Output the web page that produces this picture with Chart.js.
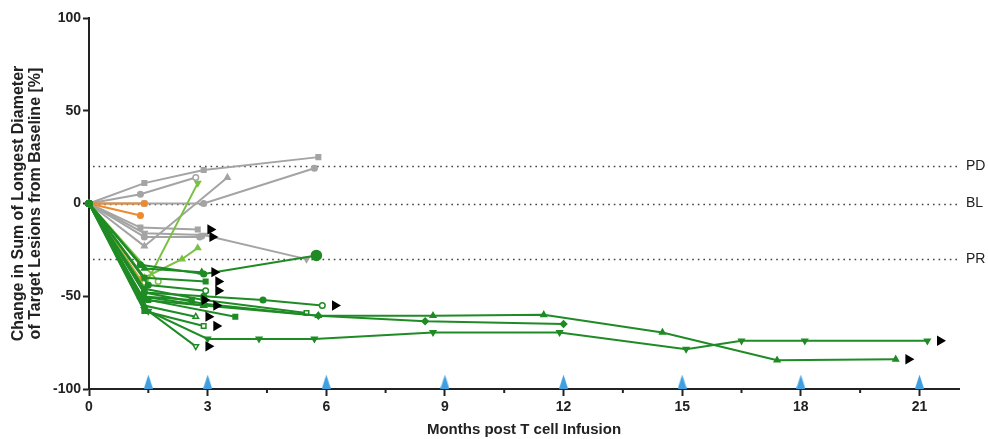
<!DOCTYPE html>
<html>
<head>
<meta charset="utf-8">
<script src="https://cdn.jsdelivr.net/npm/chart.js@4.4.1/dist/chart.umd.min.js"></script>
<style>
  body { margin: 0; background: #fff; }
  #wrap { width: 988px; height: 439px; position: relative; }
</style>
</head>
<body>
<div id="wrap"><canvas id="chart"></canvas></div>
<script>
// ---- data (months, % change) ----
const greyMonths = [[0, 1.4, 2.9, 5.8], [0, 1.3, 2.7], [0, 1.4, 3.5], [0, 1.4, 2.9, 5.7], [0, 1.3, 2.75], [0, 1.4, 2.8], [0, 1.4, 2.9, 5.5]];
const greyValues = [[0, 11, 18, 25], [0, 5, 14], [0, -23, 14], [0, 0, 0, 19], [0, -13, -14], [0, -18, -18], [0, -16, -17, -30]];
const greyShapes = ["rect", "circle", "triangle", "circle", "rect", "circle", "triangleDown"];
const greyOpenEnd = [false, true, false, false, false, false, false];
const greyOngoing = [false, false, false, false, true, true, false];

const orangeMonths = [[0, 1.3], [0, 1.4], [0, 1.3]];
const orangeValues = [[0, -6.5], [0, 0], [0, -41]];
const orangeShapes = ["circle", "rect", "circle"];

const lightMonths = [[0, 1.4, 2.75], [0, 1.4, 2.35, 2.75], [0, 1.75]];
const lightValues = [[0, -45, 11], [0, -40, -30, -24], [0, -42]];
const lightShapes = ["triangleDown", "triangle", "circle"];
const lightOpenEnd = [false, false, true];

const greenMonths = [
  [0, 1.3, 2.9, 5.75],
  [0, 1.4, 2.85],
  [0, 1.4, 2.95],
  [0, 1.5, 2.95],
  [0, 1.4, 2.9, 4.4, 5.9],
  [0, 1.3, 2.6],
  [0, 1.4, 2.9],
  [0, 1.5, 3.7],
  [0, 1.4, 2.7],
  [0, 1.4, 2.9],
  [0, 1.5, 2.7],
  [0, 1.4, 3.0, 4.3, 5.7, 8.7, 11.9, 15.1, 16.5, 18.1, 21.2],
  [0, 1.3, 2.9, 5.8, 8.7, 11.5, 14.5, 17.4, 20.4],
  [0, 1.4, 2.9, 5.8, 8.5, 12.0],
  [0, 1.4, 2.9, 5.5],
];
const greenValues = [
  [0, -33, -38, -28],
  [0, -35, -37],
  [0, -40, -42],
  [0, -44, -47],
  [0, -48, -50, -52, -55],
  [0, -50, -52],
  [0, -52, -55],
  [0, -52, -61],
  [0, -55, -61],
  [0, -58, -66],
  [0, -58, -77],
  [0, -57, -73, -73, -73, -69.5, -69.5, -78.5, -74, -74, -74],
  [0, -50, -55, -60.5, -60.5, -60, -69.5, -84.5, -84],
  [0, -48, -54, -60.5, -63.5, -65],
  [0, -46, -52, -59],
];
const greenShapes = ["circle", "triangle", "rect", "circle", "circle", "rect", "triangle", "rect", "triangle", "rect", "triangleDown", "triangleDown", "triangle", "rectRot", "rect"];
const greenOpenEnd = [false, false, false, true, true, false, false, false, true, true, true, false, false, false, true];
const greenOngoing = [false, true, true, true, true, true, true, false, true, true, true, true, true, false, false];
const greenBigEnd = [true, false, false, false, false, false, false, false, false, false, false, false, false, false, false];

const infusionMonths = [1.5, 3, 6, 9, 12, 15, 18, 21];
const infusionLevel = -96;

const refValues = [20, 0, -30];
const refLabels = ["PD", "BL", "PR"];
const minorTicks = [1.5, 4.5, 7.5, 10.5, 13.5, 16.5, 19.5];

const COLORS = {
  grey: "#a4a4a4",
  orange: "#ee8a2c",
  light: "#7ac143",
  green: "#1f8b24",
  blue: "#3f9fe0",
};

// arrow offset after last point (months)
const ARROW_GAP = 0.32;

function makeSeries(months, values, shapes, openEnd, color, order, bigEnd) {
  return months.map((xs, i) => {
    const down = shapes[i] === "triangleDown";
    const n = xs.length;
    const last = (j) => j === n - 1;
    const bg = xs.map((_, j) => (openEnd && openEnd[i] && last(j) ? "#fff" : color));
    const radius = xs.map((_, j) => {
      if (bigEnd && bigEnd[i] && last(j)) return 5;
      return shapes[i] === "circle" ? 2.8 : 3.2;
    });
    return {
      data: xs.map((x, j) => ({ x, y: values[i][j] })),
      borderColor: color,
      borderWidth: 2,
      pointStyle: down ? "triangle" : shapes[i],
      rotation: down ? 180 : 0,
      pointRadius: radius,
      pointBorderWidth: 1.5,
      pointBackgroundColor: bg,
      pointBorderColor: color,
      order,
      clip: false,
    };
  });
}

function arrowPoints(months, values, ongoing) {
  const pts = [];
  months.forEach((xs, i) => {
    if (!ongoing[i]) return;
    const n = xs.length;
    pts.push({ x: xs[n - 1] + ARROW_GAP, y: values[i][n - 1] });
  });
  return pts;
}

// tall narrow triangle for infusion markers
const infusionMark = document.createElement("canvas");
infusionMark.width = 9;
infusionMark.height = 14;
(function () {
  const c = infusionMark.getContext("2d");
  c.fillStyle = COLORS.blue;
  c.beginPath();
  c.moveTo(4.5, 0);
  c.lineTo(9, 14);
  c.lineTo(0, 14);
  c.closePath();
  c.fill();
})();

const datasets = [
  ...makeSeries(greyMonths, greyValues, greyShapes, greyOpenEnd, COLORS.grey, 5),
  ...makeSeries(orangeMonths, orangeValues, orangeShapes, null, COLORS.orange, 4),
  ...makeSeries(lightMonths, lightValues, lightShapes, lightOpenEnd, COLORS.light, 3),
  ...makeSeries(greenMonths, greenValues, greenShapes, greenOpenEnd, COLORS.green, 2, greenBigEnd),
  {
    data: [
      ...arrowPoints(greyMonths, greyValues, greyOngoing),
      ...arrowPoints(greenMonths, greenValues, greenOngoing),
    ],
    showLine: false,
    pointStyle: "triangle",
    rotation: 90,
    pointRadius: 6,
    pointBackgroundColor: "#000",
    pointBorderColor: "#000",
    pointBorderWidth: 0,
    order: 1,
    clip: false,
  },
  {
    data: infusionMonths.map((x) => ({ x, y: infusionLevel })),
    showLine: false,
    pointStyle: infusionMark,
    order: 0,
    clip: false,
  },
];

const refLinePlugin = {
  id: "refLines",
  beforeDatasetsDraw(chart) {
    const { ctx, chartArea, scales } = chart;
    ctx.save();
    ctx.strokeStyle = "#444";
    ctx.lineWidth = 1.6;
    ctx.setLineDash([1.6, 4]);
    refValues.forEach((v) => {
      const y = Math.round(scales.y.getPixelForValue(v)) + 0.5;
      ctx.beginPath();
      ctx.moveTo(chartArea.left + 4, y);
      ctx.lineTo(chartArea.right, y);
      ctx.stroke();
    });
    ctx.restore();
  },
  afterDraw(chart) {
    const { ctx, chartArea, scales } = chart;
    ctx.save();
    ctx.fillStyle = "#222";
    ctx.font = "14px 'Liberation Sans', Arial, sans-serif";
    ctx.textBaseline = "middle";
    refValues.forEach((v, i) => {
      ctx.fillText(refLabels[i], chartArea.right + 7, scales.y.getPixelForValue(v));
    });
    // minor ticks on the x axis
    ctx.strokeStyle = "#222";
    ctx.lineWidth = 2;
    minorTicks.forEach((m) => {
      const x = scales.x.getPixelForValue(m);
      ctx.beginPath();
      ctx.moveTo(x, chartArea.bottom);
      ctx.lineTo(x, chartArea.bottom + 4);
      ctx.stroke();
    });
    ctx.restore();
  },
};

const tickFont = { family: "'Liberation Sans', Arial, sans-serif", size: 14, weight: "bold" };
const xTitleFont = { family: "'Liberation Sans', Arial, sans-serif", size: 15, weight: "bold" };
const yTitleFont = { family: "'Liberation Sans', Arial, sans-serif", size: 16, weight: "bold", lineHeight: 1.05 };

new Chart(document.getElementById("chart"), {
  type: "line",
  data: { datasets },
  options: {
    responsive: true,
    maintainAspectRatio: false,
    animation: false,
    layout: { padding: { top: 18, right: 29, left: 6, bottom: 0 } },
    plugins: { legend: { display: false }, tooltip: { enabled: false } },
    elements: { line: { tension: 0 } },
    scales: {
      x: {
        type: "linear",
        min: 0,
        max: 22,
        border: { color: "#222", width: 2 },
        grid: { drawOnChartArea: false, tickLength: 7, tickWidth: 2, color: "#222" },
        ticks: { stepSize: 3, includeBounds: false, color: "#222", font: tickFont, padding: 3, maxRotation: 0 },
        title: { display: true, text: "Months post T cell Infusion", color: "#222", font: xTitleFont, padding: { top: 4, bottom: 0 } },
        afterFit(scale) { scale.height = 50; },
      },
      y: {
        min: -100,
        max: 100,
        border: { color: "#222", width: 2 },
        grid: { drawOnChartArea: false, tickLength: 6, tickWidth: 2, color: "#222" },
        ticks: { stepSize: 50, color: "#222", font: tickFont, padding: 2 },
        title: {
          display: true,
          text: ["Change in Sum of Longest Diameter", "of Target Lesions from Baseline [%]"],
          color: "#222",
          font: yTitleFont,
          padding: { bottom: 2 },
        },
        afterFit(scale) { scale.width = 83; },
      },
    },
  },
  plugins: [refLinePlugin],
});
</script>
</body>
</html>
